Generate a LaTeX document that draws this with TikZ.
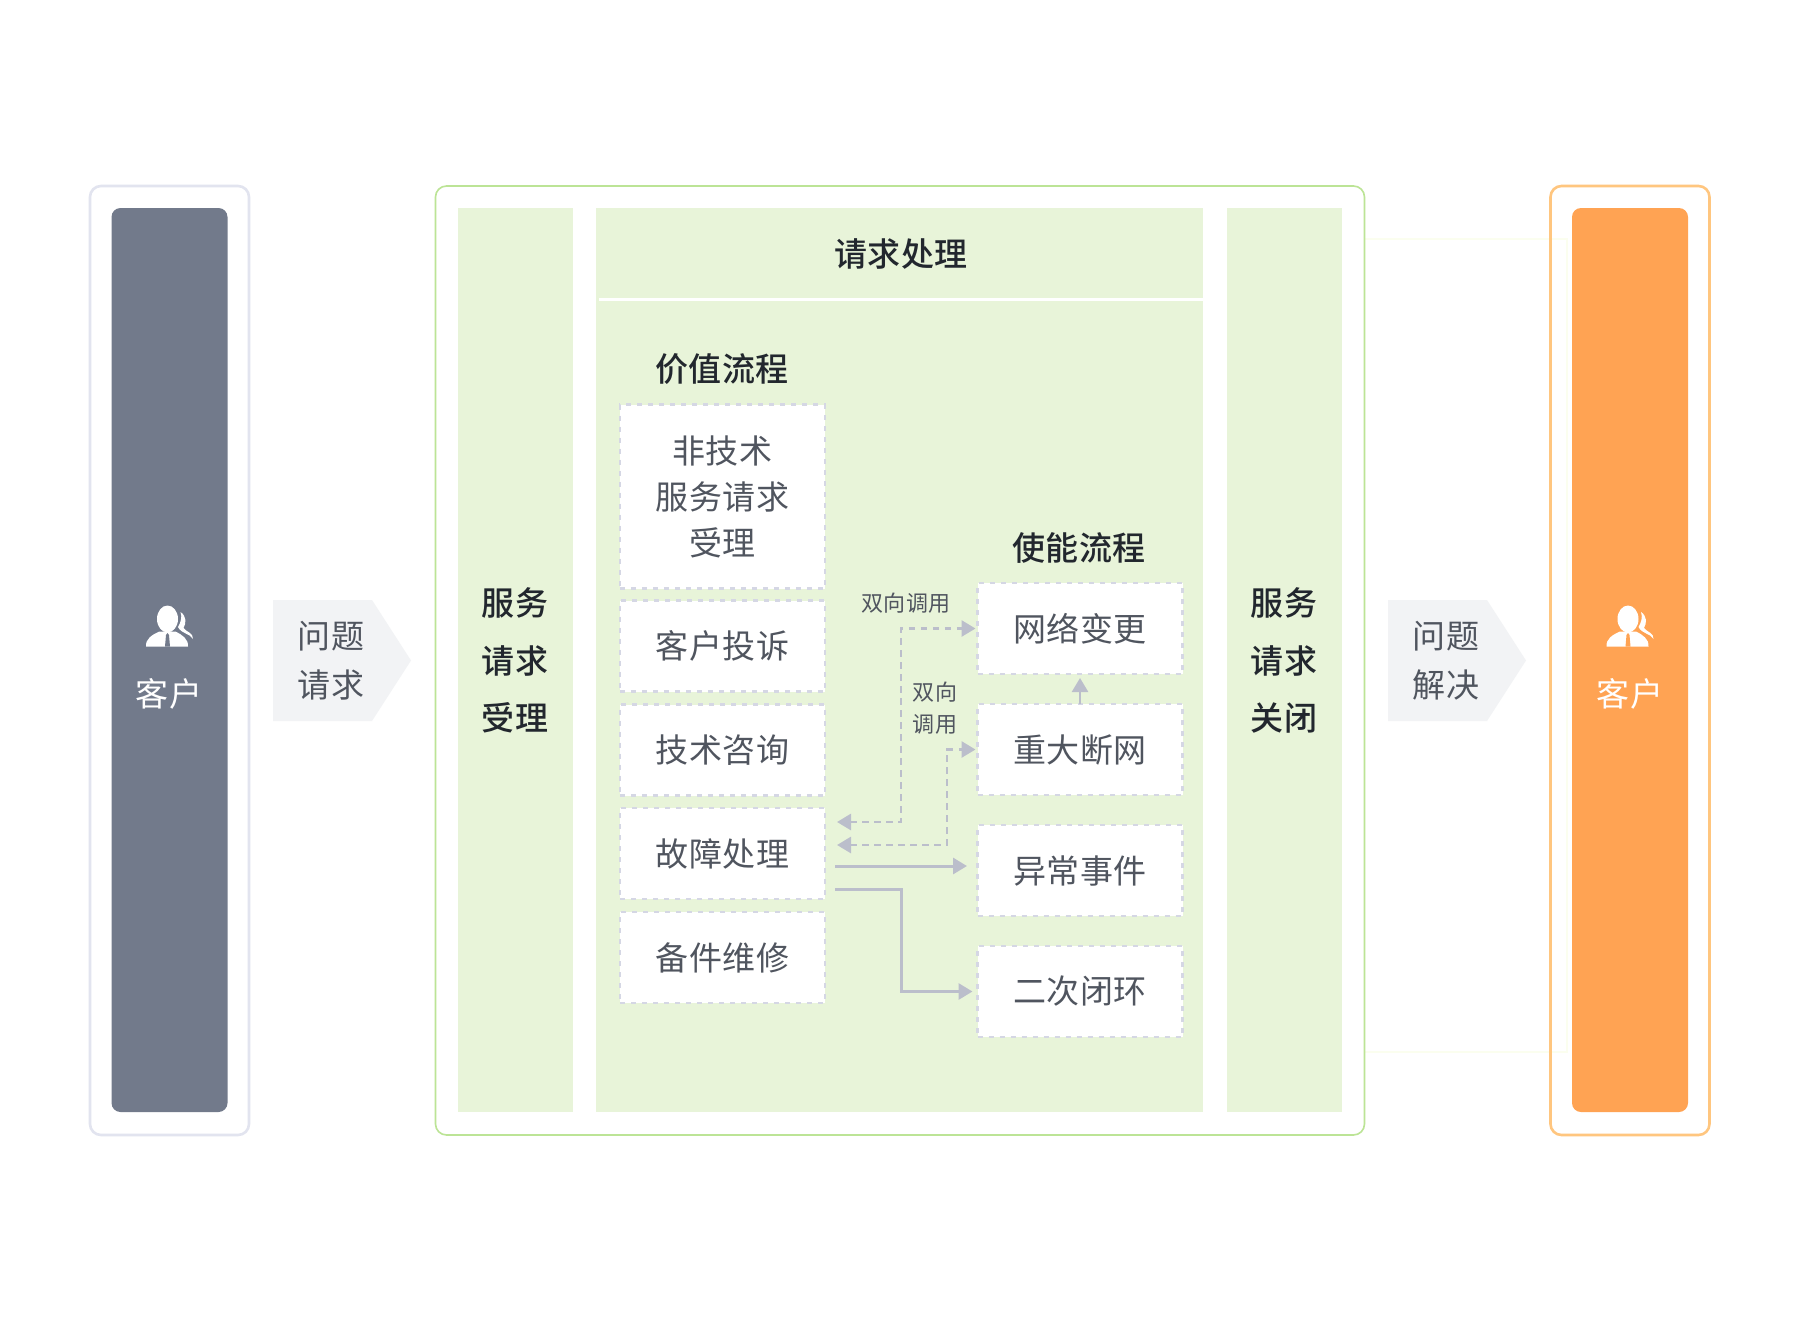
\documentclass[tikz,border=0pt]{standalone}
\usepackage{fontspec}
\setmainfont{Noto Sans CJK SC}[LetterSpace=1.5]
\newfontfamily\medcjk{Noto Sans CJK SC Medium}[LetterSpace=1.5]
\usetikzlibrary{arrows.meta}
\definecolor{slatepanel}{HTML}{727A8B}
\definecolor{slateedge}{HTML}{E2E4EF}
\definecolor{orangepanel}{HTML}{FFA353}
\definecolor{orangeedge}{HTML}{FFC67F}
\definecolor{greenpanel}{HTML}{E8F4D9}
\definecolor{greenedge}{HTML}{BCE496}
\definecolor{boxedge}{HTML}{D5D7E4}
\definecolor{arrowgrey}{HTML}{BBBECB}
\definecolor{bodytext}{HTML}{50555F}
\definecolor{headtext}{HTML}{22272E}
\definecolor{chevronfill}{HTML}{F2F3F5}
\definecolor{faintline}{HTML}{FBFEEF}
\tikzset{
  every node/.style={inner sep=0pt,outer sep=0pt},
  panel/.style={rectangle,rounded corners=9pt,minimum width=116pt,minimum height=904pt,text width=116pt},
  frame/.style={rectangle,rounded corners=11pt,fill=white,line width=2.6pt},
  greencol/.style={rectangle,fill=greenpanel,minimum height=904pt},
  box/.style={rectangle,fill=white,draw=boxedge,line width=2.5pt,dash pattern=on 5pt off 6pt,minimum width=205pt,minimum height=91pt},
  boxlabel/.style={text=bodytext,align=center,font=\fontsize{33}{46}\selectfont},
  heading/.style={text=headtext,align=center,font=\fontsize{33}{40}\medcjk},
  collabel/.style={text=headtext,align=center,font=\fontsize{33}{57.5}\medcjk},
  small/.style={text=bodytext,align=center,font=\fontsize{22}{32}\selectfont},
  panellabel/.style={text=white,font=\fontsize{33}{40}\selectfont},
  chevlabel/.style={text=bodytext,align=center,font=\fontsize{33}{49}\selectfont},
  chev/.style={fill=chevronfill},
  tip/.style={-{Triangle[length=14pt,width=16pt]},arrowgrey,line width=3pt},
  dtip/.style={{Triangle[length=14pt,width=16pt]}-{Triangle[length=14pt,width=16pt]},arrowgrey,line width=2.8pt,dash pattern=on 6.5pt off 5.5pt},
  faint/.style={draw=faintline,line width=1.5pt},
  pics/person/.style={code={
    \fill[white] (-2,-7) ellipse [x radius=10.5,y radius=13.5];
    \fill[white] (-23.5,20.5) .. controls (-24,13) and (-18,9) .. (-10,5.5) -- (6,5.5) .. controls (13,9) and (19,13) .. (18.5,20.5) -- cycle;
    \fill[#1] (-2,7) -- (-0.5,9) -- (0.5,20.5) -- (-4.5,20.5) -- (-3.5,9) -- cycle;
    \fill[white] (11,-14) .. controls (17,-10) and (17,-3) .. (14,2) .. controls (17,6) and (24,7) .. (23.5,13) .. controls (20,7) and (12,8) .. (8.5,1) .. controls (11,-3) and (13,-9) .. (11,-14) -- cycle;
  }}
}
\begin{document}
\begin{tikzpicture}[x=1pt,y=-1pt]
\useasboundingbox (0,0) rectangle (1800,1320);
\fill[white] (0,0) rectangle (1800,1320);

% faint guide lines behind the right frame
\coordinate (fa) at (1364,239);
\coordinate (fb) at (1567,239);
\coordinate (fc) at (1567,1052);
\coordinate (fd) at (1364,1052);
\draw[faint] (fa) -- (fb) -- (fc) -- (fd);

% outer frames
\node[frame,draw=slateedge,minimum width=159pt,minimum height=949pt] (leftframe) at (169.5,660.5) {};
\node[frame,draw=greenedge,line width=1.6pt,minimum width=929pt,minimum height=949pt] (midframe) at (900,660.5) {};
\node[frame,draw=orangeedge,fill=none,minimum width=159pt,minimum height=949pt] (rightframe) at (1630,660.5) {};

% customer panels
\node[panel,fill=slatepanel] (leftpanel) at (169.5,660) {};
\node[panel,fill=orangepanel] (rightpanel) at (1630,660) {};
\pic at (169.5,626) {person=slatepanel};
\pic at (1630,626) {person=orangepanel};
\node[panellabel] (leftcust) at (169,694) {客户};
\node[panellabel] (rightcust) at (1630,694) {客户};

% chevrons
\fill[chev] (273,600) -- (372,600) -- (411,660.5) -- (372,721) -- (273,721) -- cycle;
\fill[chev] (1388,600) -- (1487,600) -- (1526,660.5) -- (1487,721) -- (1388,721) -- cycle;
\node[chevlabel] (req) at (331,661) {问题\\请求};
\node[chevlabel] (res) at (1446,661) {问题\\解决};

% green columns
\node[greencol,minimum width=115pt] (colL) at (515,660) {};
\node[greencol,minimum width=607pt] (colM) at (899.5,660) {};
\node[greencol,minimum width=115pt] (colR) at (1284,660) {};
\coordinate (ruleA) at (599,299);
\coordinate (ruleB) at (1203,299);
\draw[white,line width=3pt] (ruleA) -- (ruleB);

\node[collabel] (acc) at (515,660.5) {服务\\请求\\受理};
\node[collabel] (cls) at (1284,660.5) {服务\\请求\\关闭};
\node[heading] (proc) at (901,254) {请求处理};
\node[heading] (val) at (722,369) {价值流程};
\node[heading] (ena) at (1079,548) {使能流程};

% value stream boxes
\node[box,minimum height=184pt] (b1) at (722.5,496.5) {};
\node[box] (b2) at (722.5,646) {};
\node[box] (b3) at (722.5,750) {};
\node[box] (b4) at (722.5,853.5) {};
\node[box] (b5) at (722.5,957.5) {};
\node[boxlabel] at (b1) {非技术\\服务请求\\受理};
\node[boxlabel] at (b2) {客户投诉};
\node[boxlabel] at (b3) {技术咨询};
\node[boxlabel] at (b4) {故障处理};
\node[boxlabel] at (b5) {备件维修};

% enabling stream boxes
\node[box] (e1) at (1080,628.5) {};
\node[box] (e2) at (1080,749.5) {};
\node[box] (e3) at (1080,870.5) {};
\node[box] (e4) at (1080,991.5) {};
\node[boxlabel] at (e1) {网络变更};
\node[boxlabel] at (e2) {重大断网};
\node[boxlabel] at (e3) {异常事件};
\node[boxlabel] at (e4) {二次闭环};

% connectors
\coordinate (d1) at (837,822);
\coordinate (d2) at (837,845);
\coordinate (s1) at (835,866);
\coordinate (s2) at (835,889);
\draw[dtip,shorten >=2pt] (d1) -| (901,628.5) -- (e1.west);
\draw[dtip,shorten >=2pt] (d2) -| (947,749.5) -- (e2.west);
\draw[tip] (s1) -- (967,866);
\draw[tip,shorten >=5pt] (s2) -| (901,991.5) -- (e4.west);
\draw[tip,line width=2.5pt,shorten >=4pt] (e2.north) -- (e1.south);

\node[small] (l1) at (906,603.5) {双向调用};
\node[small] (l2) at (935,708.5) {双向\\调用};
\end{tikzpicture}
\end{document}
